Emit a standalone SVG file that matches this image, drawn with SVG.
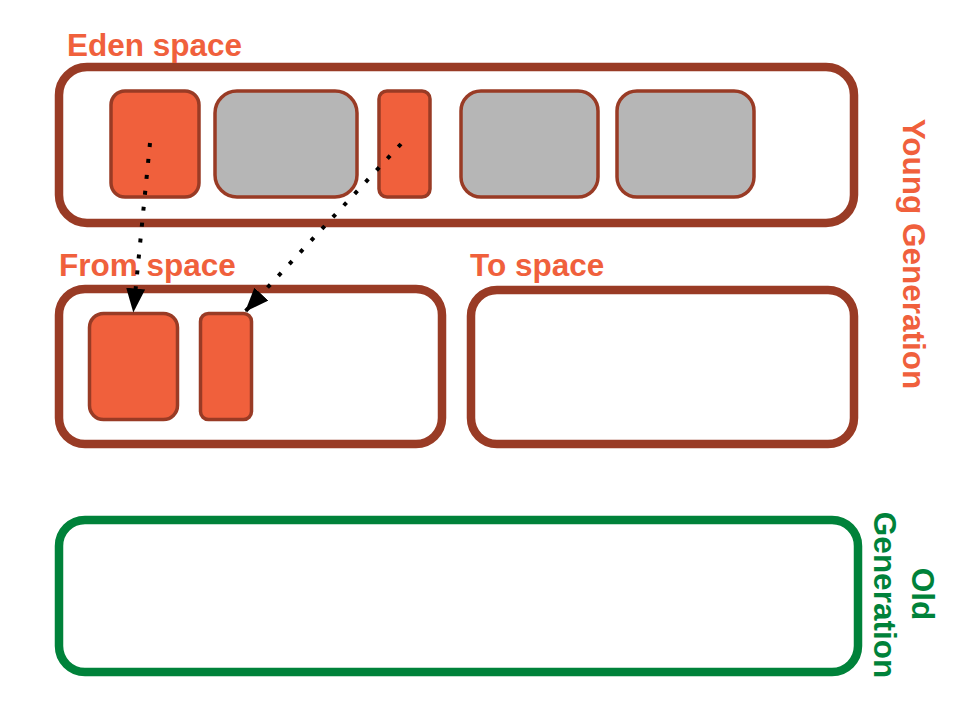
<svg xmlns="http://www.w3.org/2000/svg" width="960" height="720" viewBox="0 0 960 720">
<style>
.space{fill:#ffffff;stroke:#993b25;stroke-width:8.5}
.old{fill:#ffffff;stroke:#00823a;stroke-width:8.5}
.obj{fill:#f0603c;stroke:#993b25;stroke-width:3.5}
.free{fill:#b6b6b6;stroke:#993b25;stroke-width:3.5}
.lbl{font-family:"Liberation Sans",Arial,sans-serif;font-weight:bold;font-size:31.5px;fill:#f0603c}
.glbl{font-family:"Liberation Sans",Arial,sans-serif;font-weight:bold;font-size:31.5px;fill:#00823a}
.conn{fill:none;stroke:#000000;stroke-width:4;stroke-dasharray:4 12}
</style>
<defs>
<marker id="arrow" markerUnits="userSpaceOnUse" markerWidth="26" markerHeight="20" refX="24" refY="9.5" orient="auto">
<path d="M0,0 L24,9.5 L0,19 z" fill="#000000"/>
</marker>
</defs>
<rect width="960" height="720" fill="#ffffff"/>
<g id="eden">
<rect class="space" x="59" y="67" width="795" height="156" rx="28"/>
<text class="lbl" x="67" y="56">Eden space</text>
</g>
<g id="eden-obj1"><rect class="obj" x="111" y="91" width="88" height="106" rx="14"/></g>
<g id="eden-free1"><rect class="free" x="215" y="91" width="142" height="106" rx="22"/></g>
<g id="eden-obj2"><rect class="obj" x="379" y="91" width="51" height="106" rx="8"/></g>
<g id="eden-free2"><rect class="free" x="461" y="91" width="137" height="106" rx="20"/></g>
<g id="eden-free3"><rect class="free" x="617" y="91" width="137" height="106" rx="20"/></g>
<g id="from-space">
<rect class="space" x="59" y="289" width="383" height="155" rx="26"/>
<text class="lbl" x="59" y="276">From space</text>
</g>
<g id="from-obj1"><rect class="obj" x="89.5" y="313.5" width="88" height="106" rx="14"/></g>
<g id="from-obj2"><rect class="obj" x="200.5" y="313.5" width="51" height="106" rx="8"/></g>
<g id="to-space">
<rect class="space" x="471" y="290" width="383" height="154" rx="26"/>
<text class="lbl" x="470" y="276">To space</text>
</g>
<g id="young-generation">
<text class="lbl" text-anchor="middle" transform="translate(903,254) rotate(90)">Young Generation</text>
</g>
<g id="old-generation">
<rect class="old" x="59" y="520" width="799" height="152" rx="26"/>
<text class="glbl" text-anchor="middle" transform="translate(912,594) rotate(90)">Old</text>
<text class="glbl" text-anchor="middle" transform="translate(874,595) rotate(90)">Generation</text>
</g>
<g id="connectors">
<line class="conn" x1="150" y1="143" x2="133.3" y2="312.5" marker-end="url(#arrow)"/>
<line class="conn" x1="401" y1="144" x2="245" y2="311.7" marker-end="url(#arrow)"/>
</g>
</svg>
